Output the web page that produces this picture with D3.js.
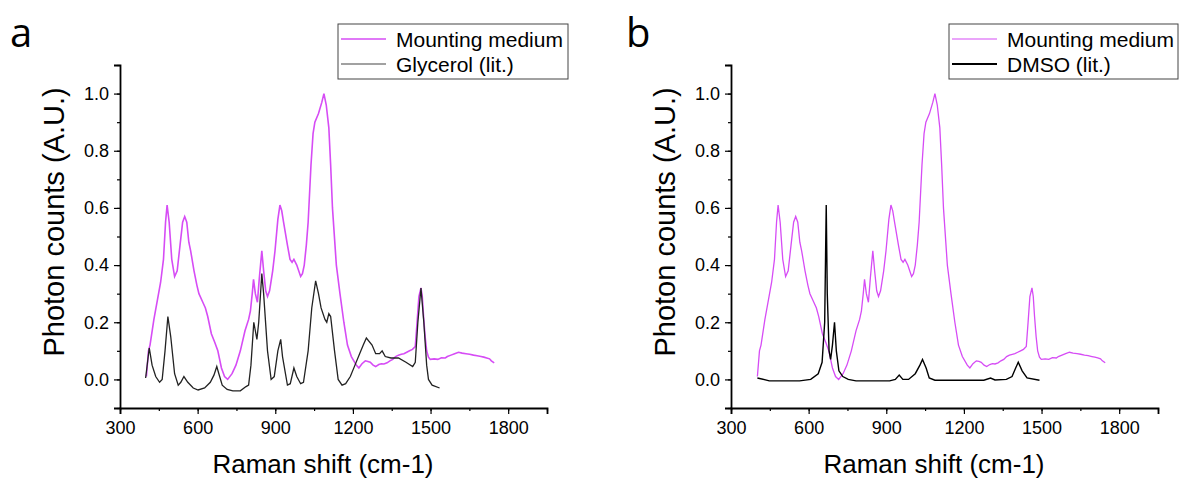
<!DOCTYPE html>
<html>
<head>
<meta charset="utf-8">
<script src="https://cdn.jsdelivr.net/npm/d3@7"></script>
<style>
body{margin:0;background:#fff}
text{font-family:Arial,"Liberation Sans",sans-serif;fill:#000}
</style>
</head>
<body>
<svg id="chart" width="1179" height="480"></svg>
<script>
// mounting medium spectrum (same in both panels)
var mediumShift = [402,410,416,431,445,457,468,476,482,490,500,511,521,532,542,550,558,566,573,586,597,605,620,630,639,653,666,678,692,704,716,733,748,765,783,797,804,811,816,823,831,838,848,855,863,870,878,890,899,910,918,925,932,947,957,965,972,983,998,1005,1012,1020,1027,1038,1046,1053,1067,1080,1088,1097,1107,1114,1121,1136,1150,1165,1179,1194,1213,1223,1235,1248,1258,1267,1278,1288,1300,1310,1320,1332,1343,1354,1365,1376,1387,1397,1408,1419,1430,1441,1448,1455,1463,1468,1473,1479,1485,1492,1499,1514,1528,1542,1557,1565,1579,1593,1608,1622,1637,1651,1666,1680,1695,1706,1717,1728,1735,1746];
var mediumCounts = [0.01,0.10,0.12,0.21,0.28,0.34,0.42,0.55,0.61,0.55,0.42,0.36,0.38,0.47,0.55,0.57,0.55,0.48,0.45,0.38,0.33,0.30,0.27,0.25,0.22,0.16,0.13,0.10,0.04,0.01,0.00,0.02,0.05,0.10,0.17,0.21,0.24,0.30,0.35,0.30,0.27,0.35,0.45,0.38,0.31,0.29,0.31,0.38,0.45,0.56,0.61,0.59,0.55,0.47,0.42,0.41,0.42,0.40,0.36,0.37,0.40,0.47,0.55,0.75,0.86,0.90,0.93,0.97,1.00,0.96,0.88,0.75,0.60,0.40,0.30,0.20,0.12,0.08,0.05,0.04,0.055,0.065,0.063,0.06,0.05,0.045,0.052,0.055,0.054,0.058,0.065,0.07,0.08,0.085,0.088,0.09,0.095,0.10,0.105,0.115,0.20,0.29,0.32,0.29,0.22,0.15,0.10,0.078,0.07,0.072,0.07,0.076,0.075,0.08,0.085,0.09,0.095,0.092,0.09,0.088,0.085,0.083,0.08,0.078,0.075,0.072,0.065,0.058];

// glycerol literature spectrum (panel a)
var glycerolShift = [399,413,424,438,453,463,474,485,496,511,525,535,547,562,583,602,627,649,663,674,682,695,714,736,765,787,797,806,817,829,836,848,855,870,884,896,910,921,928,947,958,972,983,998,1009,1027,1041,1056,1067,1077,1092,1099,1107,1114,1129,1143,1158,1172,1190,1208,1226,1240,1252,1274,1288,1303,1313,1325,1347,1376,1405,1431,1441,1451,1463,1474,1485,1492,1506,1535];
var glycerolCounts = [0.005,0.11,0.05,0.01,-0.01,0.0,0.10,0.22,0.15,0.02,-0.02,-0.01,0.01,-0.01,-0.03,-0.037,-0.03,-0.01,0.015,0.045,0.02,-0.02,-0.035,-0.04,-0.04,-0.025,-0.02,0.05,0.20,0.14,0.20,0.37,0.30,0.10,0.0,0.01,0.10,0.14,0.08,-0.02,-0.015,0.04,0.01,-0.015,-0.01,0.10,0.25,0.345,0.30,0.25,0.21,0.20,0.23,0.22,0.10,0.0,-0.02,-0.015,0.01,0.05,0.09,0.12,0.145,0.12,0.09,0.09,0.10,0.08,0.075,0.075,0.06,0.045,0.06,0.20,0.32,0.20,0.05,0.0,-0.02,-0.03];

// DMSO literature spectrum (panel b)
var dmsoShift = [402,448,565,608,637,652,662,668,672,679,685,692,700,707,717,732,753,783,913,935,950,964,986,1012,1030,1040,1054,1066,1088,1277,1303,1320,1364,1386,1400,1410,1425,1444,1492];
var dmsoCounts = [0.005,-0.005,-0.005,0.0,0.02,0.06,0.20,0.61,0.30,0.10,0.07,0.12,0.20,0.10,0.03,0.01,0.0,-0.005,-0.005,0.0,0.015,0.0,0.0,0.02,0.05,0.07,0.04,0.005,-0.003,-0.003,0.005,-0.002,0.0,0.01,0.04,0.06,0.03,0.005,-0.003];

var xTicks = [300,600,900,1200,1500,1800];
var yTicks = [0.0,0.2,0.4,0.6,0.8,1.0];
var panelLetters = ['a','b'];
var refNames = ['Glycerol (lit.)','DMSO (lit.)'];

var svg = d3.select('#chart');
var MAGENTA = '#d64cf5';

var drawPanel = function(i, refShift, refCounts){
  var ox = i*611;
  var g = svg.append('g').attr('transform','translate('+ox+',0)');
  var x = d3.scaleLinear().domain([300,1950]).range([120,547]);
  var y = d3.scaleLinear().domain([-0.1,1.1]).range([408,65]);

  // minor ticks
  var xa = d3.axisBottom(x).tickValues(d3.range(300,1951,150)).tickSize(3).tickFormat('');
  g.append('g').attr('transform','translate(0,408)').call(xa)
    .call(function(s){s.select('.domain').remove();});
  var ya = d3.axisLeft(y).tickValues(d3.range(-1,12).map(function(d){return d/10;})).tickSize(3).tickFormat('');
  g.append('g').attr('transform','translate(120,0)').call(ya)
    .call(function(s){s.select('.domain').remove();});

  // major ticks
  var xAxis = d3.axisBottom(x).tickValues(xTicks).tickSize(6).tickPadding(7).tickFormat(d3.format('d'));
  var gx = g.append('g').attr('transform','translate(0,408)').call(xAxis);
  gx.selectAll('text').style('font-size','18px');
  var yAxis = d3.axisLeft(y).tickValues(yTicks).tickSize(6).tickPadding(5).tickFormat(d3.format('.1f'));
  var gy = g.append('g').attr('transform','translate(120,0)').call(yAxis);
  gy.selectAll('text').style('font-size','18px');
  g.selectAll('.domain').attr('stroke-width',1.8);
  g.selectAll('.tick line').attr('stroke-width',1.2);
  g.selectAll('.tick text').style('font-family','Arial,"Liberation Sans",sans-serif');

  var line = d3.line().x(function(d){return x(d[0]);}).y(function(d){return y(d[1]);});
  var med = d3.zip(mediumShift, mediumCounts);
  var ref = d3.zip(refShift, refCounts);
  g.append('path').datum(med).attr('d',line).attr('fill','none')
    .attr('stroke',MAGENTA).attr('stroke-width', i==0 ? 1.6 : 1.3);
  g.append('path').datum(ref).attr('d',line).attr('fill','none')
    .attr('stroke', i==0 ? '#222' : '#000').attr('stroke-width', i==0 ? 1.3 : 1.4);

  // titles
  g.append('text').attr('transform','translate(64,222) rotate(-90)')
    .attr('text-anchor','middle').style('font-size','29px').text('Photon counts (A.U.)');
  g.append('text').attr('x',323).attr('y',473)
    .attr('text-anchor','middle').style('font-size','26px').text('Raman shift (cm-1)');
  g.append('text').attr('x',i==0 ? 10 : 15).attr('y',47)
    .style('font-family','"Open Sans",sans-serif').style('font-size','40px').text(panelLetters[i]);

  // legend
  var lg = g.append('g');
  lg.append('rect').attr('x',338).attr('y',24).attr('width',i==0 ? 230 : 229).attr('height',55)
    .attr('fill','#fff').attr('stroke','#444').attr('stroke-width',1);
  lg.append('line').attr('x1',341).attr('x2',386).attr('y1',39).attr('y2',39)
    .attr('stroke',MAGENTA).attr('stroke-width', i==0 ? 1.6 : 1.1);
  lg.append('line').attr('x1',341).attr('x2',386).attr('y1',64).attr('y2',64)
    .attr('stroke', i==0 ? '#444' : '#000').attr('stroke-width', i==0 ? 1.1 : 1.8);
  lg.append('text').attr('x',396).attr('y',47).style('font-size','21px').text('Mounting medium');
  lg.append('text').attr('x',396).attr('y',72).style('font-size','21px').text(refNames[i]);
};

drawPanel(0, glycerolShift, glycerolCounts);
drawPanel(1, dmsoShift, dmsoCounts);
</script>
</body>
</html>
